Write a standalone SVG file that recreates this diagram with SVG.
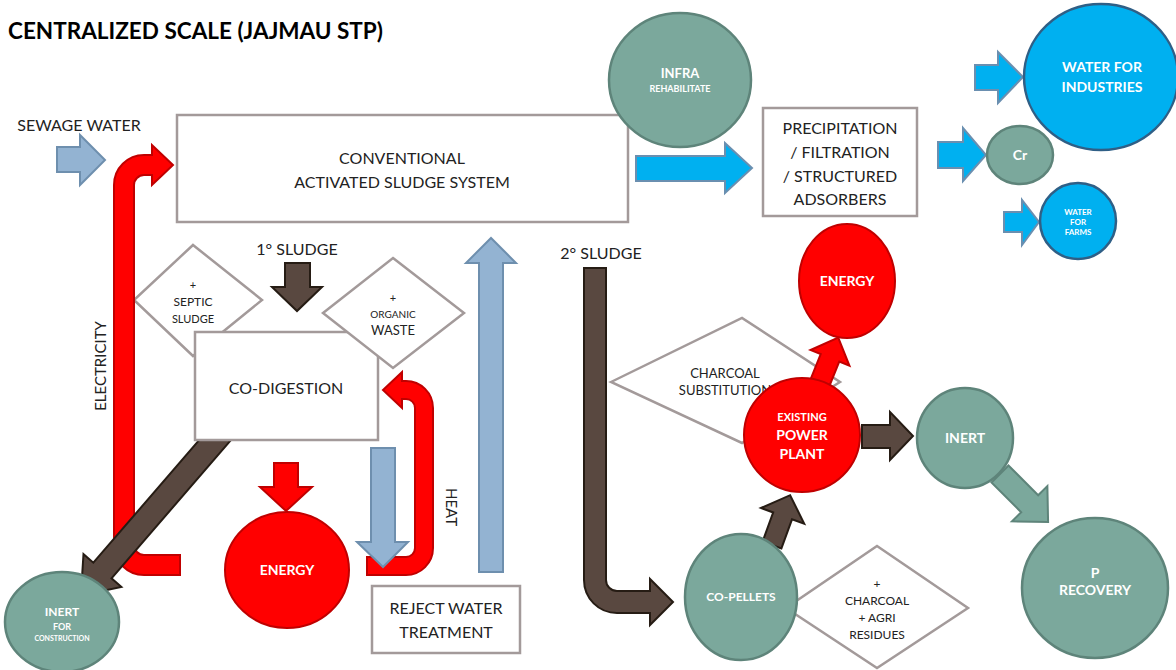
<svg xmlns="http://www.w3.org/2000/svg" width="1176" height="670" viewBox="0 0 1176 670">
<style>
text{font-family:Lato,"Liberation Sans",sans-serif;fill:#222;text-anchor:middle}
.t16{font-size:16px}
.t12{font-size:12px}
.w{fill:#fff;font-weight:bold}
.box{fill:#fff;stroke:#A39A9A;stroke-width:2.5}
.dia{fill:#fff;stroke:#A39A9A;stroke-width:2.5}
.grn{fill:#7BA89C;stroke:#5E847A;stroke-width:2.5}
.red{fill:#FF0000;stroke:#C00000;stroke-width:2}
.cyn{fill:#00B0F0;stroke:#2F5F86;stroke-width:2.5}
.acyn{fill:#00B0F0;stroke:#6A8FB0;stroke-width:2}
.alb{fill:#93B3D2;stroke:#6E8FAE;stroke-width:2}
.abr{fill:#594840;stroke:#261C14;stroke-width:2}
.ared{fill:#FF0000;stroke:#C00000;stroke-width:2}
.agr{fill:#7BA89C;stroke:#5E847A;stroke-width:2}
</style>
<rect width="1176" height="670" fill="#fff"/>
<text x="8" y="39" style="font-size:22px;font-weight:bold;text-anchor:start;fill:#000" textLength="375" lengthAdjust="spacingAndGlyphs">CENTRALIZED SCALE (JAJMAU STP)</text>
<text x="79" y="131" class="t16">SEWAGE WATER</text>

<g id="septic-sludge">
<polygon class="dia" points="193,245 262,300 193,356 134,300"/>
<text x="193" y="289" style="font-size:11px">+</text>
<text x="193" y="306" style="font-size:12px">SEPTIC</text>
<text x="193" y="323" style="font-size:11px">SLUDGE</text>
</g>
<g id="charcoal-substitution">
<polygon class="dia" points="611,382 742,318 840,382 742,443"/>
<text x="725" y="378" style="font-size:13px">CHARCOAL</text>
<text x="725" y="395" style="font-size:13px">SUBSTITUTION</text>
</g>
<g id="charcoal-agri">
<polygon class="dia" points="877,546 968,608 877,668 786,608"/>
<text x="877" y="588" class="t12">+</text>
<text x="877" y="605" class="t12">CHARCOAL</text>
<text x="877" y="622" class="t12">+ AGRI</text>
<text x="877" y="639" class="t12">RESIDUES</text>
</g>

<g id="connectors">
<polygon class="alb" points="57,147 80,147 80,135 105,160 80,185 80,172 57,172"/>
<path class="ared" d="M180,575 H144 A30,30 0 0 1 114,545 V185 A30,30 0 0 1 144,155 H152 V145 L173,165 L152,185 V175 H144 A10,10 0 0 0 134,185 V545 A10,10 0 0 0 144,555 H180 Z"/>
<polygon class="abr" transform="translate(222,432) rotate(130.8)" points="0,-12 183,-12 183,-25 216,0 183,25 183,12 0,12"/>
<polygon class="abr" points="285,263 310,263 310,287 322,287 297,311 272,287 285,287"/>
<polygon class="ared" points="274,463 298,463 298,487 312,487 286,511 260,487 274,487"/>
<path class="ared" d="M367,557 H406 A9,9 0 0 0 415,548 V408 A9,9 0 0 0 406,399 H402 V408 L383,390 L402,372 V381 H406 A27,27 0 0 1 433,408 V548 A27,27 0 0 1 406,575 H367 Z"/>
<polygon class="alb" points="371,448 395,448 395,542 408,542 383,567 357,542 371,542"/>
<polygon class="alb" points="479,572 503,572 503,263 516,263 491,238 466,263 479,263"/>
<path class="abr" d="M584,268 V580 A33,33 0 0 0 617,613 H650 V625 L673,602 L650,579 V591 H617 A11,11 0 0 1 606,580 V268 Z"/>
<polygon class="acyn" points="636,156 725,156 725,143 752,168 725,193 725,181 636,181"/>
<polygon class="acyn" points="975,65 998,65 998,52 1023,77 998,103 998,90 975,90"/>
<polygon class="acyn" points="938,142 963,142 963,128 986,155 963,181 963,168 938,168"/>
<polygon class="acyn" points="1004,212 1022,212 1022,200 1039,222 1022,245 1022,232 1004,232"/>
<polygon class="abr" transform="translate(772,545) rotate(-70)" points="0,-10 31,-10 31,-23 53,0 31,23 31,10 0,10"/>
<polygon class="ared" transform="translate(815,395) rotate(-68)" points="0,-10 40,-10 40,-21 62,0 40,21 40,10 0,10"/>
<polygon class="abr" points="862,425 890,425 890,412 913,436 890,460 890,448 862,448"/>
<polygon class="agr" transform="translate(1000,474) rotate(45)" points="0,-12 42,-12 42,-25 68,0 42,25 42,12 0,12"/>
<text x="0" y="0" style="font-size:15px" transform="translate(106,366) rotate(-90)">ELECTRICITY</text>
<text x="0" y="0" style="font-size:15px" transform="translate(446,507) rotate(90)">HEAT</text>
<text x="297" y="255" class="t16">1° SLUDGE</text>
<text x="601" y="259" class="t16">2° SLUDGE</text>
</g>

<g id="conventional">
<rect class="box" x="177" y="115" width="451" height="107"/>
<text x="402" y="164" class="t16">CONVENTIONAL</text>
<text x="402" y="188" class="t16">ACTIVATED SLUDGE SYSTEM</text>
</g>
<g id="co-digestion">
<rect class="box" x="195" y="332" width="183" height="108"/>
<text x="286" y="394" class="t16">CO-DIGESTION</text>
</g>
<g id="organic-waste">
<polygon class="dia" points="393,258 464,313 393,368 323,313"/>
<text x="393" y="302" style="font-size:11px">+</text>
<text x="393" y="318" style="font-size:10px">ORGANIC</text>
<text x="393" y="335" style="font-size:13px">WASTE</text>
</g>
<g id="reject-water">
<rect class="box" x="372" y="586" width="148" height="67"/>
<text x="446" y="614" class="t16">REJECT WATER</text>
<text x="446" y="638" class="t16">TREATMENT</text>
</g>
<g id="precipitation">
<rect class="box" x="763" y="108" width="154" height="108"/>
<text x="840" y="134" class="t16">PRECIPITATION</text>
<text x="840" y="158" class="t16">/ FILTRATION</text>
<text x="840" y="182" class="t16">/ STRUCTURED</text>
<text x="840" y="205" class="t16">ADSORBERS</text>
</g>
<g id="infra">
<ellipse class="grn" cx="680" cy="80" rx="71" ry="67"/>
<text x="680" y="78" class="w" style="font-size:13px">INFRA</text>
<text x="680" y="92" class="w" style="font-size:9px">REHABILITATE</text>
</g>
<g id="water-industries">
<ellipse class="cyn" cx="1101" cy="77" rx="77" ry="73"/>
<text x="1102" y="72" class="w" style="font-size:14px">WATER FOR</text>
<text x="1102" y="92" class="w" style="font-size:14px">INDUSTRIES</text>
</g>
<g id="cr">
<ellipse class="grn" cx="1020" cy="155" rx="33" ry="29"/>
<text x="1020" y="160" class="w" style="font-size:14px">Cr</text>
</g>
<g id="water-farms">
<ellipse class="cyn" cx="1078" cy="221" rx="38" ry="38"/>
<text x="1078" y="215" class="w" style="font-size:8px">WATER</text>
<text x="1078" y="225" class="w" style="font-size:8px">FOR</text>
<text x="1078" y="235" class="w" style="font-size:8px">FARMS</text>
</g>
<g id="energy-top">
<ellipse class="red" cx="847" cy="281" rx="48" ry="57"/>
<text x="847" y="286" class="w" style="font-size:14px">ENERGY</text>
</g>
<g id="power-plant">
<ellipse class="red" cx="802" cy="435" rx="58" ry="57"/>
<text x="802" y="421" class="w" style="font-size:11px">EXISTING</text>
<text x="802" y="440" class="w" style="font-size:14px">POWER</text>
<text x="802" y="459" class="w" style="font-size:14px">PLANT</text>
</g>
<g id="inert">
<ellipse class="grn" cx="965" cy="438" rx="48" ry="50"/>
<text x="965" y="443" class="w" style="font-size:14px">INERT</text>
</g>
<g id="p-recovery">
<ellipse class="grn" cx="1095" cy="588" rx="73" ry="70"/>
<text x="1095" y="578" class="w" style="font-size:14px">P</text>
<text x="1095" y="595" class="w" style="font-size:14px">RECOVERY</text>
</g>
<g id="co-pellets">
<ellipse class="grn" cx="741" cy="597" rx="56" ry="63"/>
<text x="741" y="601" class="w" style="font-size:12px">CO-PELLETS</text>
</g>
<g id="energy-left">
<ellipse class="red" cx="287" cy="570" rx="62" ry="58"/>
<text x="287" y="575" class="w" style="font-size:14px">ENERGY</text>
</g>
<g id="inert-construction">
<ellipse class="grn" cx="62" cy="622" rx="57" ry="50"/>
<text x="62" y="616" class="w" style="font-size:12px">INERT</text>
<text x="62" y="630" class="w" style="font-size:9px">FOR</text>
<text x="62" y="641" class="w" style="font-size:7px">CONSTRUCTION</text>
</g>
</svg>
